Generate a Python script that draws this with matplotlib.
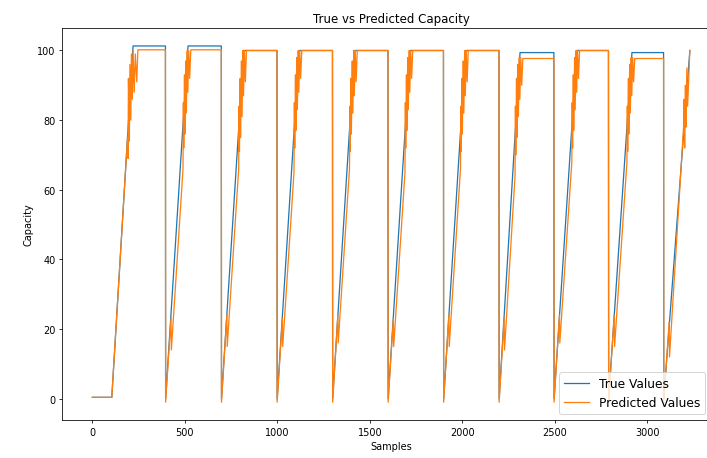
import numpy as np
import matplotlib
matplotlib.use("Agg")
import matplotlib.pyplot as plt

# true capacity (piecewise-linear breakpoints)
true_x = [0, 105, 220, 395, 396, 517, 697, 698, 818, 998, 999, 1118,
          1298, 1299, 1417, 1598, 1599, 1718, 1898, 1899, 2018, 2198, 2199,
          2312, 2495, 2496, 2619, 2790, 2791, 2917, 3088, 3089, 3230]
true_y = [0.4, 0.4, 101.3, 101.3, 0.0, 101.3, 101.3, 0.0, 100.0, 100.0, 0.0, 100.0,
          100.0, 0.0, 100.0, 100.0, 0.0, 100.0, 100.0, 0.0, 100.0, 100.0, 0.0,
          99.4, 99.4, 0.0, 100.0, 100.0, 0.0, 99.4, 99.4, 0.0, 100.0]

# predicted capacity, one block per charge cycle
pred_x = [
    0, 105, 190, 193, 195, 200, 203, 208, 211, 216, 220, 226, 232, 240, 246, 395,
    396, 425, 427, 490, 492, 494, 498, 500, 505, 508, 513, 516, 521, 526, 532, 697,
    698, 727, 729, 791, 793, 795, 799, 801, 806, 809, 814, 817, 822, 827, 833, 998,
    999, 1027, 1029, 1090, 1092, 1094, 1098, 1100, 1105, 1108, 1113, 1116, 1121, 1126, 1132, 1298,
    1299, 1327, 1329, 1390, 1392, 1394, 1398, 1400, 1405, 1408, 1413, 1416, 1421, 1426, 1432, 1598,
    1599, 1627, 1629, 1690, 1692, 1694, 1698, 1700, 1705, 1708, 1713, 1716, 1721, 1726, 1732, 1898,
    1899, 1927, 1929, 1990, 1992, 1994, 1998, 2000, 2005, 2008, 2013, 2016, 2021, 2026, 2032, 2198,
    2199, 2226, 2228, 2285, 2287, 2289, 2293, 2295, 2300, 2303, 2308, 2311, 2316, 2321, 2327, 2495,
    2496, 2525, 2527, 2592, 2594, 2596, 2600, 2602, 2607, 2610, 2615, 2618, 2623, 2628, 2634, 2790,
    2791, 2821, 2823, 2890, 2892, 2894, 2898, 2900, 2905, 2908, 2913, 2916, 2921, 2926, 2932, 3088,
    3089, 3118, 3120, 3196, 3199, 3202, 3206, 3209, 3214, 3218, 3224, 3230,
]
pred_y = [
    0.4, 0.4, 75, 69, 92, 74, 96, 80, 99, 86, 100, 88, 99, 91, 100.2, 100.2,
    -1, 23, 14, 66, 85, 72, 93, 76, 97, 82, 100, 88, 100, 92, 100.2, 100.2,
    -1, 24, 15, 66, 84, 71, 92, 75, 97, 81, 100, 87, 100, 91, 100, 100,
    -1, 23, 15, 65, 85, 72, 93, 77, 98, 83, 100, 88, 100, 92, 100, 100,
    -1, 24, 16, 66, 84, 71, 92, 76, 97, 82, 100, 87, 100, 91, 100, 100,
    -1, 23, 15, 65, 85, 72, 93, 77, 98, 83, 100, 88, 100, 92, 100, 100,
    -1, 24, 15, 66, 84, 71, 92, 76, 97, 82, 100, 87, 100, 91, 100, 100,
    -1, 23, 14, 64, 84, 70, 92, 75, 96, 81, 98, 86, 98, 90, 97.7, 97.7,
    -1, 24, 16, 68, 85, 72, 93, 77, 98, 83, 100, 88, 100, 92, 100, 100,
    -1, 24, 15, 68, 84, 71, 92, 76, 96, 82, 98, 87, 98, 91, 97.7, 97.7,
    -1, 22, 12, 78, 86, 72, 90, 78, 95, 84, 92, 100,
]

fig = plt.figure(figsize=(10, 6.49), dpi=70.7)
ax = fig.add_axes([0.0884, 0.0828, 0.9296, 0.854])

ax.plot(true_x, true_y, label="True Values", lw=1.3)
ax.plot(pred_x, pred_y, label="Predicted Values", lw=1.3)

ax.set_title("True vs Predicted Capacity")
ax.set_xlabel("Samples")
ax.set_ylabel("Capacity")
ax.legend(loc="lower right", fontsize=12.5, borderaxespad=0,
          bbox_to_anchor=(705 / 707, 1 - 415 / 459), bbox_transform=fig.transFigure)

fig.savefig("out.png", dpi=70.7)
